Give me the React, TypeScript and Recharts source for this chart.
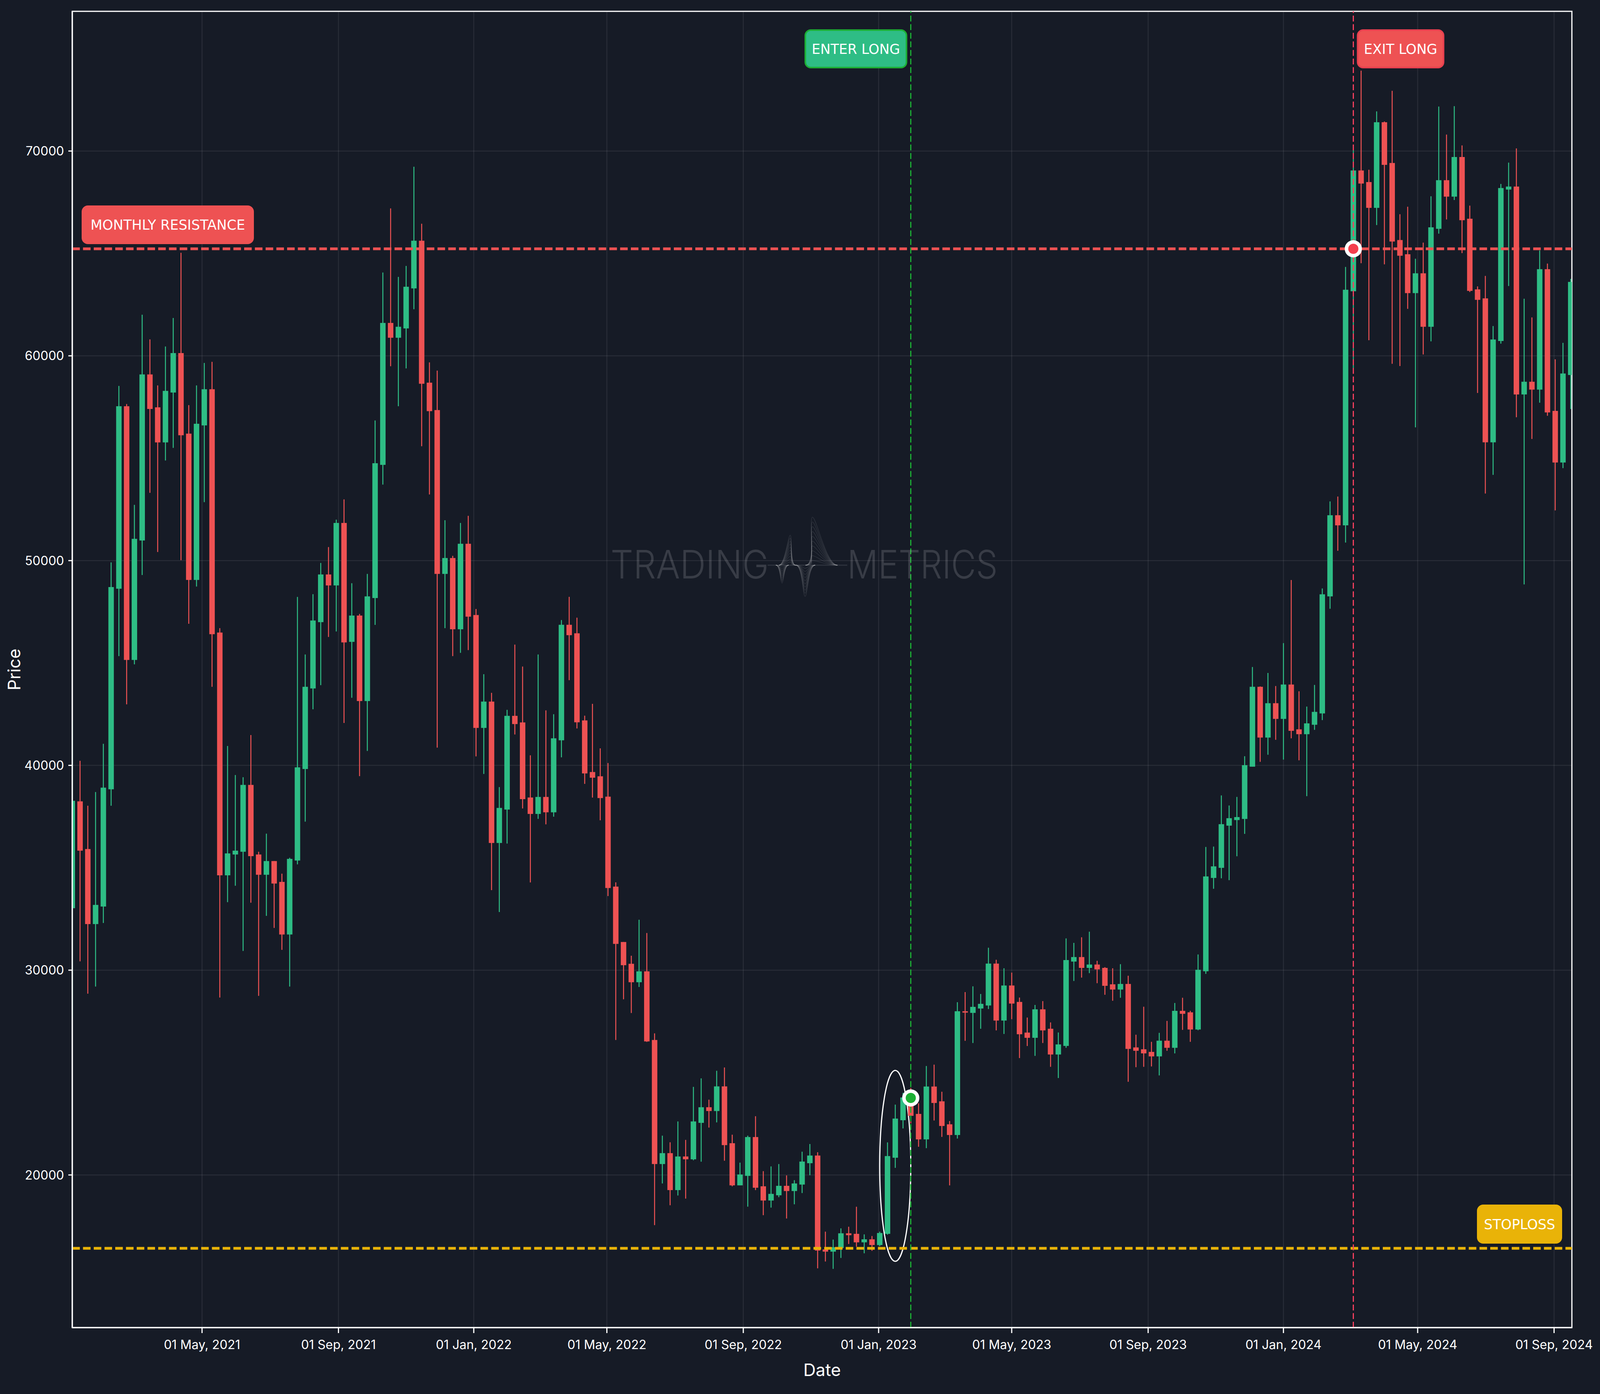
import React from 'react';
import {
  ComposedChart,
  Bar,
  XAxis,
  YAxis,
  CartesianGrid,
  ReferenceLine,
  ReferenceDot,
  ReferenceArea,
} from 'recharts';

// the browser window is capped at 4096 wide, so the 6558 wide layout is fitted into it
const WIDTH = 4096;
const HEIGHT = 3569;

const BG = '#161b26';
const UP = '#2ebd85';
const DOWN = '#ee5253';
const GRID = 'rgba(255,255,255,0.08)';
const WEEK = 7 * 24 * 3600 * 1000;
const START = Date.UTC(2021, 0, 4);

const opens = [
  33026, 38244, 35916, 32251, 33107, 38833, 48627, 57538, 45149, 50982, 59091, 57485, 55772, 58207, 60134, 56200,
  49056, 56602, 58368, 46487, 34632, 35649, 35783, 39047, 35649, 34659, 35328, 34311, 31742, 35354, 39823, 43757,
  46995, 49323, 48788, 51839, 46032, 47316, 43142, 48172, 54675, 61606, 60883, 61338, 63292, 65620, 58689, 57351,
  49350, 50126, 46647, 50822, 47343, 41830, 43115, 36211, 37843, 42419, 42098, 38432, 37629, 38459, 37709, 41225,
  46866, 46450, 42196, 39676, 39468, 38474, 34081, 31376, 30312, 29411, 29942, 26591, 20533, 21065, 19261, 20902,
  20764, 22544, 23307, 23122, 24325, 21550, 19492, 19955, 21851, 19446, 18752, 19007, 19469, 19215, 19531, 20574,
  20948, 16363, 16256, 16429, 17151, 17125, 16710, 16857, 16577, 17125, 20841, 22673, 23783, 22981, 21737, 24318,
  23596, 22473, 21951, 27994, 27914, 28128, 28275, 30321, 27540, 29251, 28449, 26952, 26697, 28088, 27140, 25882,
  26301, 30420, 30640, 30111, 30275, 30111, 29309, 29054, 29327, 26228, 26137, 26009, 25790, 26556, 26209, 28014,
  27941, 27103, 29947, 34504, 34997, 37057, 37330, 37385, 39937, 43838, 41359, 43036, 42270, 43948, 41760, 41523,
  41984, 42537, 48252, 52215, 51722, 63152, 69051, 68485, 67225, 71406, 69416, 65654, 64961, 63062, 64029, 61418,
  66202, 68576, 67773, 69708, 66695, 63244, 62806, 55776, 60724, 68119, 68265, 58113, 58734, 58350, 64230, 57310,
  54790, 59063,
];

const highs = [
  42178, 40225, 38030, 38699, 41054, 49912, 58529, 57645, 52722, 62007, 60803, 58555, 60455, 61847, 65031, 57592,
  58555, 59652, 59706, 46701, 40947, 39529, 39422, 41482, 35783, 36666, 35328, 34712, 35488, 48226, 45416, 48360,
  49885, 50661, 51999, 52989, 48895, 47396, 49350, 56843, 64068, 67199, 63854, 64389, 69233, 66450, 59679, 59278,
  51972, 50233, 51839, 52186, 47637, 44453, 43543, 38940, 42713, 45898, 44827, 40492, 45416, 42687, 42499, 47097,
  48230, 47213, 42427, 43005, 40832, 40115, 34289, 31376, 30705, 32463, 31815, 26914, 21919, 21596, 22613, 21712,
  24301, 24717, 23677, 25087, 25249, 21966, 20602, 21919, 22868, 20186, 20417, 20532, 19978, 19746, 21136, 21510,
  21109, 17232, 16844, 17392, 17472, 18448, 17098, 17018, 17232, 21590, 23435, 24010, 24250, 23502, 25320, 25387,
  24064, 22633, 28436, 28930, 29211, 28837, 31096, 30508, 30094, 29880, 28663, 27687, 28302, 28489, 27449, 26957,
  31551, 31333, 31606, 31879, 30458, 30147, 30093, 30293, 29728, 26848, 28215, 26501, 26939, 27522, 28398, 28653,
  28014, 30767, 36017, 36035, 38533, 38041, 38460, 40447, 44804, 43856, 44513, 43875, 45971, 49052, 43619, 42872,
  43929, 48640, 52891, 53128, 64340, 70256, 73926, 69087, 71936, 71443, 72940, 66914, 67280, 64741, 65527, 67791,
  72173, 70804, 72191, 70274, 67334, 63390, 63901, 61454, 68393, 69434, 70128, 62788, 61875, 65143, 64504, 59829,
  60633, 63757,
];

const lows = [
  27700, 30431, 28852, 29200, 32304, 38030, 45336, 42981, 44934, 49296, 53310, 50420, 54889, 55505, 50019, 46915,
  48734, 52855, 43837, 28664, 33321, 34123, 30939, 33294, 28745, 32652, 32063, 30993, 29200, 35167, 37254, 42740,
  43918, 46272, 46540, 42071, 43302, 39475, 40706, 46861, 53712, 59492, 57538, 59385, 62275, 55585, 53230, 40867,
  46701, 45336, 45496, 45630, 40439, 39582, 33909, 32839, 36184, 41509, 37897, 34284, 37388, 37121, 37495, 40393,
  44161, 41803, 39098, 38428, 37318, 33619, 26591, 28578, 27908, 29179, 26498, 17550, 19585, 18521, 18997, 18845,
  20717, 20648, 22314, 22567, 20695, 19446, 19492, 18452, 19261, 18036, 18406, 18914, 17873, 18567, 19117, 19986,
  15440, 15774, 15414, 15948, 16630, 16496, 16175, 16296, 16523, 17085, 20347, 22272, 22513, 21377, 21309, 22660,
  21858, 19491, 21778, 26550, 26443, 27139, 28101, 27059, 26885, 27607, 25708, 26296, 25815, 26443, 25280, 24733,
  26209, 29473, 29637, 29856, 29364, 28799, 28507, 28653, 24550, 25262, 25280, 25298, 24861, 26064, 25936, 27085,
  26501, 27067, 29820, 33975, 34486, 34395, 35562, 36656, 39937, 40174, 40520, 41249, 40283, 41322, 40247, 38497,
  41736, 42212, 47649, 50480, 50881, 59209, 64522, 60761, 66385, 64467, 59610, 59501, 62294, 56506, 60067, 60706,
  65965, 66659, 67608, 65015, 63116, 58186, 53275, 54187, 60596, 63408, 57000, 48837, 55940, 57711, 57072, 52452,
  54516, 57401,
];

const closes = [
  38271, 35836, 32251, 33187, 38913, 48708, 57538, 45149, 51063, 59091, 57405, 55772, 58288, 60134, 56120, 49056,
  56682, 58368, 46406, 34632, 35702, 35836, 39047, 35568, 34659, 35328, 34230, 31742, 35435, 39904, 43837, 47075,
  49323, 48788, 51839, 46005, 47316, 43142, 48253, 54755, 61606, 60883, 61419, 63372, 65620, 58636, 57298, 49350,
  50126, 46647, 50822, 47263, 41830, 43115, 36211, 37923, 42419, 42018, 38352, 37629, 38459, 37709, 41322, 46866,
  46358, 42104, 39607, 39399, 38404, 34012, 31283, 30243, 29411, 29942, 26521, 20533, 21065, 19261, 20902, 20764,
  22613, 23307, 23122, 24325, 21457, 19492, 20024, 21851, 19376, 18752, 19076, 19469, 19215, 19585, 20654, 20948,
  16309, 16256, 16469, 17151, 17058, 16710, 16857, 16577, 17165, 20922, 22753, 23783, 22887, 21737, 24318, 23515,
  22392, 21951, 27994, 27928, 28208, 28355, 30321, 27540, 29251, 28369, 26871, 26697, 28088, 27059, 25882, 26374,
  30494, 30640, 30111, 30275, 30038, 29236, 29054, 29327, 26155, 26064, 25937, 25790, 26556, 26209, 28014, 27869,
  27103, 30020, 34577, 35069, 37129, 37421, 37476, 40010, 43838, 41359, 43036, 42270, 43948, 41687, 41523, 42052,
  42613, 48354, 52215, 51722, 63226, 69051, 68412, 67225, 71406, 69325, 65581, 64888, 63062, 64029, 61418, 66275,
  68576, 67773, 69708, 66622, 63171, 62733, 55776, 60797, 68193, 68265, 58113, 58734, 58350, 64230, 57236, 54790,
  59136, 63609,
];

const dateTicks = [
  '2021-05-01', '2021-09-01', '2022-01-01', '2022-05-01', '2022-09-01', '2023-01-01',
  '2023-05-01', '2023-09-01', '2024-01-01', '2024-05-01', '2024-09-01',
];
const priceTicks = [20000, 30000, 40000, 50000, 60000, 70000];
const MONTHS = ['Jan', 'Feb', 'Mar', 'Apr', 'May', 'Jun', 'Jul', 'Aug', 'Sep', 'Oct', 'Nov', 'Dec'];

const RESISTANCE = 65226;
const STOPLOSS = 16418;
const ENTER_WEEK = 108;
const EXIT_WEEK = 165;
const ENTER_PRICE = 23761;
const EXIT_PRICE = 65226;
const ELLIPSE_FROM_WEEK = 104;
const ELLIPSE_TO_WEEK = 108;
const ELLIPSE_HIGH = 25104;
const ELLIPSE_LOW = 15783;

const xMin = START;
const xMax = START + 193.15 * WEEK;
const yMin = 12546;
const yMax = 76822;

const table = opens.map((open, i) => ({
  date: START + i * WEEK,
  open,
  high: highs[i],
  low: lows[i],
  close: closes[i],
}));

const formatDate = (t: number) => {
  const d = new Date(t);
  return `01 ${MONTHS[d.getUTCMonth()]}, ${d.getUTCFullYear()}`;
};

// wick and body are cut from the one high-low bar the axis scale gives us
const Candle = ({ x, y, width, height, payload }: any) => {
  const { open, high, low, close } = payload;
  const perPrice = height / (high - low);
  const color = close >= open ? UP : DOWN;
  const bodyTop = y + (high - Math.max(open, close)) * perPrice;
  const bodyH = Math.max(Math.abs(open - close) * perPrice, 2);
  return (
    <g>
      <rect x={x + width / 2 - 1.25} y={y} width={2.5} height={height} fill={color} />
      <rect x={x} y={bodyTop} width={width} height={bodyH} fill={color} />
    </g>
  );
};

const tag = (text: string, dx: number, dy: number, w: number, h: number, fill: string, border: string) => (p: any) => (
  <g>
    <rect x={p.cx + dx} y={p.cy + dy} width={w} height={h} rx={14} fill={fill} stroke={border} strokeWidth={4} />
    <text
      x={p.cx + dx + w / 2}
      y={p.cy + dy + h / 2 + 13}
      textAnchor="middle"
      fontFamily="DejaVu Sans"
      fontSize={35}
      fill="#ffffff"
    >
      {text}
    </text>
  </g>
);

const marker = (color: string) => (p: any) => (
  <g>
    <circle cx={p.cx} cy={p.cy} r={22} fill="#ffffff" />
    <circle cx={p.cx} cy={p.cy} r={13} fill={color} />
  </g>
);

const lobe = (left: number, center: number, right: number, amp: number) => {
  const base = 1447;
  const w = right - left;
  return `M${left},${base} C${left + w * 0.35},${base} ${center - w * 0.12},${base - amp} ${center},${base - amp} C${center + w * 0.12},${base - amp} ${right - w * 0.35},${base} ${right},${base}`;
};

const logoLevels = [1, 0.9, 0.8, 0.7, 0.6, 0.5, 0.4, 0.3, 0.2, 0.1];

const Watermark = () => (
  <svg
    width={WIDTH}
    height={HEIGHT}
    style={{ position: 'absolute', left: 0, top: 0, pointerEvents: 'none' }}
  >
    <g fill="#ffffff" fillOpacity={0.15} fontFamily="Inter" fontWeight={300} fontSize={100}>
      <text x={1563} y={1481} textLength={405} lengthAdjust="spacingAndGlyphs">TRADING</text>
      <text x={2169} y={1481} textLength={385} lengthAdjust="spacingAndGlyphs">METRICS</text>
    </g>
    <g fill="none" stroke="#ffffff" strokeOpacity={0.1} strokeWidth={1.5}>
      <line x1={1965} y1={1447} x2={2169} y2={1447} strokeWidth={3} />
      {logoLevels.map((k) => (
        <g key={k}>
          <path d={lobe(1986, 2002, 2019, -46 * k)} />
          <path d={lobe(1994, 2023, 2037, 77 * k)} />
          <path d={lobe(2037, 2061, 2087, -80 * k)} />
          <path d={lobe(2062, 2080, 2144, 123 * k)} />
        </g>
      ))}
    </g>
  </svg>
);

const tickStyle = { fill: '#ffffff', fontSize: 32, fontFamily: 'Inter' };
const titleStyle = { fill: '#ffffff', fontSize: 44, fontFamily: 'Inter' };

export default function App() {
  return (
    <div style={{ position: 'absolute', left: 0, top: 0, width: WIDTH, height: HEIGHT, background: BG, overflow: 'hidden' }}>
      <ComposedChart width={WIDTH} height={HEIGHT} data={table} margin={{ top: 29, right: 72, left: 0, bottom: 0 }}>
        <CartesianGrid stroke={GRID} strokeWidth={2.5} />
        <XAxis
          dataKey="date"
          type="number"
          domain={[xMin, xMax]}
          allowDataOverflow
          ticks={dateTicks.map((d) => Date.parse(d))}
          tickFormatter={formatDate}
          interval={0}
          height={170}
          tickSize={14}
          tickMargin={18}
          stroke="#ffffff"
          strokeWidth={3}
          tick={tickStyle}
          label={{ value: 'Date', position: 'insideBottom', offset: 46, style: titleStyle }}
        />
        <YAxis
          type="number"
          domain={[yMin, yMax]}
          allowDataOverflow
          ticks={priceTicks}
          interval={0}
          width={185}
          tickSize={10}
          tickMargin={11}
          stroke="#ffffff"
          strokeWidth={3}
          tick={tickStyle}
          label={{ value: 'Price', angle: -90, position: 'insideLeft', offset: 36, style: { ...titleStyle, textAnchor: 'middle' } }}
        />
        <Bar
          dataKey={(d: any) => [d.low, d.high]}
          barSize={14}
          shape={<Candle />}
          isAnimationActive={false}
        />
        <ReferenceLine y={RESISTANCE} stroke={DOWN} strokeWidth={7} strokeDasharray="19.4 8.1" />
        <ReferenceLine y={STOPLOSS} stroke="#e9b308" strokeWidth={7} strokeDasharray="19.4 8.1" />
        <ReferenceLine x={START + ENTER_WEEK * WEEK} stroke="#1cae34" strokeWidth={3} strokeDasharray="15 7" />
        <ReferenceLine x={START + EXIT_WEEK * WEEK} stroke="#f43f5e" strokeWidth={3} strokeDasharray="15 7" />
        <ReferenceArea
          x1={START + ELLIPSE_FROM_WEEK * WEEK}
          x2={START + ELLIPSE_TO_WEEK * WEEK}
          y1={ELLIPSE_LOW}
          y2={ELLIPSE_HIGH}
          shape={(p: any) => (
            <ellipse
              cx={p.x + p.width / 2}
              cy={p.y + p.height / 2}
              rx={p.width / 2}
              ry={p.height / 2}
              fill="none"
              stroke="#ffffff"
              strokeWidth={3}
            />
          )}
        />
        <ReferenceArea x1={xMin} x2={xMax} y1={yMin} y2={yMax} fill="none" stroke="#ffffff" strokeWidth={3} />
        <ReferenceDot x={START + ENTER_WEEK * WEEK} y={ENTER_PRICE} shape={marker('#1cb034')} />
        <ReferenceDot x={START + EXIT_WEEK * WEEK} y={EXIT_PRICE} shape={marker('#f43f4e')} />
        <ReferenceDot x={START + ENTER_WEEK * WEEK} y={yMax} shape={tag('ENTER LONG', -270, 48, 259, 96, UP, '#1cae34')} />
        <ReferenceDot x={START + EXIT_WEEK * WEEK} y={yMax} shape={tag('EXIT LONG', 11, 48, 220, 96, DOWN, '#e8404f')} />
        <ReferenceDot x={xMin} y={RESISTANCE} shape={tag('MONTHLY RESISTANCE', 26, -109, 437, 95, DOWN, DOWN)} />
        <ReferenceDot x={xMax} y={STOPLOSS} shape={tag('STOPLOSS', -241, -110, 214, 96, '#e9b308', '#e9b308')} />
      </ComposedChart>
      <Watermark />
    </div>
  );
}
